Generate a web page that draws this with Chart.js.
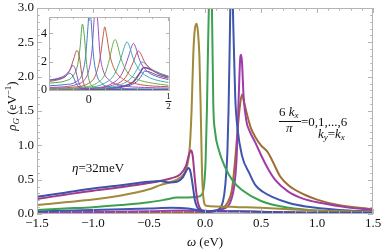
<!DOCTYPE html>
<html lang="en">
<head>
  <meta charset="UTF-8" />
  <title>Spectral density</title>
  <script src="https://cdn.jsdelivr.net/npm/chart.js"></script>
  <style>
    body { margin: 0; background: #fff; }
    #wrap { position: relative; width: 381px; height: 249px; }
    #main { position: absolute; left: 0; top: 0; }
    #inset { position: absolute; left: 36px; top: 12px; }
  </style>
</head>
<body>
  <div id="wrap">
    <canvas id="main" width="381" height="249"></canvas>
    <canvas id="inset" width="140" height="100"></canvas>
  </div>

  <script>
    // main panel, 6kx/pi = 0..6, [omega, rho]
    const kx0 = [[-1.5,0.25],[-1.25,0.31],[-1.0,0.37],[-0.75,0.42],[-0.5,0.47],[-0.4,0.48],[-0.32,0.46],[-0.25,0.47],[-0.2,0.53],[-0.17,0.62],[-0.15,0.67],[-0.13,0.62],[-0.11,0.42],[-0.09,0.2],[-0.07,0.1],[-0.045,0.06],[0,0.04],[0.1,0.04],[0.3,0.04],[0.6,0.03],[1.0,0.02],[1.5,0.02]];
    const kx1 = [[-1.5,0.22],[-1.25,0.28],[-1.0,0.34],[-0.75,0.39],[-0.5,0.45],[-0.4,0.48],[-0.3,0.52],[-0.22,0.58],[-0.17,0.7],[-0.14,0.88],[-0.125,0.93],[-0.11,0.85],[-0.09,0.5],[-0.07,0.22],[-0.05,0.1],[-0.02,0.05],[0.1,0.04],[0.3,0.035],[0.6,0.03],[1.0,0.02],[1.5,0.015]];
    const kx2 = [[-1.5,0.13],[-1.25,0.17],[-1.0,0.21],[-0.75,0.27],[-0.5,0.36],[-0.4,0.42],[-0.3,0.47],[-0.22,0.53],[-0.17,0.64],[-0.15,0.78],[-0.135,1.0],[-0.12,1.5],[-0.104,2.35],[-0.09,2.7],[-0.075,2.77],[-0.063,2.65],[-0.05,2.3],[-0.038,1.5],[-0.028,0.7],[-0.015,0.25],[0.01,0.12],[0.1,0.11],[0.3,0.1],[0.5,0.09],[0.75,0.07],[1.0,0.05],[1.5,0.03]];
    const kx3 = [[-1.5,0.06],[-1.25,0.08],[-1.0,0.1],[-0.75,0.13],[-0.5,0.17],[-0.35,0.21],[-0.25,0.24],[-0.15,0.24],[-0.07,0.25],[-0.03,0.28],[-0.01,0.4],[0.005,0.75],[0.017,1.5],[0.028,2.5],[0.045,3.5],[0.062,3.0],[0.074,1.6],[0.09,1.2],[0.12,0.95],[0.18,0.68],[0.25,0.48],[0.33,0.35],[0.5,0.19],[0.75,0.09],[1.0,0.05],[1.5,0.02]];
    const kx4 = [[-1.5,0.04],[-1.0,0.06],[-0.5,0.08],[-0.3,0.09],[-0.15,0.08],[-0.05,0.05],[0.02,0.03],[0.08,0.04],[0.13,0.08],[0.16,0.18],[0.18,0.4],[0.2,0.9],[0.21,1.5],[0.22,2.4],[0.23,3.3],[0.24,3.4],[0.255,2.6],[0.27,1.7],[0.29,1.25],[0.33,0.85],[0.4,0.58],[0.45,0.42],[0.52,0.32],[0.6,0.25],[0.75,0.16],[0.9,0.11],[1.2,0.06],[1.5,0.035]];
    const kx5 = [[-1.5,0.02],[-1.0,0.03],[-0.5,0.04],[-0.2,0.05],[0,0.04],[0.1,0.05],[0.17,0.08],[0.22,0.15],[0.26,0.4],[0.28,0.75],[0.295,1.4],[0.307,2.0],[0.315,2.28],[0.322,2.32],[0.33,2.22],[0.345,1.7],[0.37,1.35],[0.4,1.2],[0.446,1.05],[0.536,0.74],[0.625,0.5],[0.74,0.33],[0.88,0.22],[1.04,0.16],[1.25,0.1],[1.5,0.06]];
    const kx6 = [[-1.5,0.01],[-1.0,0.015],[-0.5,0.02],[-0.2,0.025],[0,0.03],[0.1,0.05],[0.15,0.08],[0.2,0.16],[0.24,0.35],[0.27,0.8],[0.29,1.2],[0.31,1.55],[0.33,1.74],[0.35,1.62],[0.38,1.42],[0.41,1.25],[0.446,1.13],[0.5,1.0],[0.56,0.9],[0.6,0.78],[0.67,0.55],[0.75,0.41],[0.89,0.28],[1.0,0.21],[1.19,0.13],[1.5,0.07]];
    const mainColors = ['#4150a8', '#a23a8a', '#a08b3a', '#3da052', '#3e56ad', '#a03ca8', '#a06c35'];

    // inset, finer k steps
    const in0 = [[-0.25,0.7],[-0.2,0.78],[-0.15,0.95],[-0.12,1.2],[-0.1,1.0],[-0.08,0.5],[-0.06,0.2],[-0.03,0.08],[0.05,0.05],[0.25,0.04],[0.5,0.04]];
    const in1 = [[-0.25,0.72],[-0.2,0.82],[-0.15,1.05],[-0.12,1.4],[-0.1,1.75],[-0.085,1.5],[-0.065,0.6],[-0.045,0.2],[-0.02,0.08],[0.1,0.05],[0.5,0.04]];
    const in2 = [[-0.25,0.62],[-0.2,0.72],[-0.15,0.95],[-0.12,1.4],[-0.095,2.2],[-0.075,2.8],[-0.06,2.4],[-0.045,1.2],[-0.03,0.4],[-0.01,0.12],[0.1,0.06],[0.5,0.05]];
    const in3 = [[-0.25,0.5],[-0.2,0.55],[-0.15,0.65],[-0.1,1.0],[-0.07,1.8],[-0.055,3.0],[-0.04,4.65],[-0.028,3.8],[-0.015,2.0],[0,0.8],[0.02,0.3],[0.06,0.12],[0.2,0.07],[0.5,0.06]];
    const in4 = [[-0.25,0.32],[-0.15,0.4],[-0.08,0.6],[-0.04,1.2],[-0.02,2.4],[-0.005,4.5],[0.005,6],[0.015,4.8],[0.03,2.4],[0.05,1.1],[0.08,0.5],[0.15,0.2],[0.3,0.1],[0.5,0.08]];
    const in5 = [[-0.25,0.2],[-0.15,0.25],[-0.08,0.4],[-0.03,0.7],[0,1.4],[0.02,2.8],[0.035,5.2],[0.045,6],[0.055,5],[0.07,2.6],[0.09,1.4],[0.13,0.7],[0.2,0.35],[0.35,0.2],[0.5,0.15]];
    const in6 = [[-0.25,0.15],[-0.1,0.22],[0,0.5],[0.04,1.0],[0.07,2.2],[0.09,3.8],[0.1,4.46],[0.11,4.0],[0.13,2.6],[0.16,1.5],[0.22,0.75],[0.3,0.45],[0.4,0.3],[0.5,0.25]];
    const in7 = [[-0.25,0.1],[-0.05,0.2],[0.05,0.5],[0.1,1.1],[0.13,2.2],[0.155,3.4],[0.167,3.56],[0.18,3.2],[0.2,2.3],[0.24,1.3],[0.3,0.8],[0.4,0.5],[0.5,0.35]];
    const in8 = [[-0.25,0.08],[0,0.2],[0.1,0.5],[0.16,1.1],[0.2,2.2],[0.225,3.1],[0.24,3.4],[0.255,3.1],[0.28,2.2],[0.32,1.4],[0.38,0.9],[0.45,0.65],[0.5,0.55]];
    const in9 = [[-0.25,0.07],[0,0.15],[0.15,0.5],[0.21,1.2],[0.25,2.4],[0.27,3.1],[0.28,3.3],[0.295,3.0],[0.32,2.1],[0.36,1.4],[0.42,1.0],[0.5,0.75]];
    const in10 = [[-0.25,0.06],[0,0.12],[0.15,0.35],[0.23,0.9],[0.28,2.0],[0.3,2.6],[0.31,2.77],[0.325,2.6],[0.35,2.0],[0.4,1.4],[0.45,1.1],[0.5,0.9]];
    const in11 = [[-0.25,0.05],[0,0.1],[0.2,0.4],[0.27,0.9],[0.31,1.6],[0.333,2.0],[0.35,1.9],[0.38,1.6],[0.43,1.25],[0.5,1.0]];
    const in12 = [[-0.25,0.04],[0,0.08],[0.2,0.25],[0.28,0.6],[0.32,1.2],[0.345,1.6],[0.37,1.55],[0.4,1.4],[0.45,1.15],[0.5,0.95]];
    const in13 = [[-0.25,0.03],[0,0.06],[0.2,0.2],[0.3,0.6],[0.33,1.0],[0.35,1.35],[0.38,1.3],[0.42,1.1],[0.5,0.85]];
    const insetColors = ['#4b5fb8', '#9b4fb5', '#b85a4a', '#55a84a', '#3f7fc0', '#9a50c8', '#c0603f', '#6ab04a', '#3fb0b0', '#9050c0', '#c85050', '#45b5c0', '#8040a8', '#4a5ab8'];

    const xTicks = [-1.5, -1.0, -0.5, 0, 0.5, 1.0, 1.5];
    const xTickLabels = ['\u22121.5', '\u22121.0', '\u22120.5', '0.0', '0.5', '1.0', '1.5'];
    const yTicks = [0, 0.5, 1.0, 1.5, 2.0, 2.5, 3.0];
    const yTickLabels = ['0.0', '0.5', '1.0', '1.5', '2.0', '2.5', '3.0'];
    const insetYTicks = [0, 2, 4];

    const SERIF = '"Liberation Serif", "DejaVu Serif", serif';

    function toXY(arr) {
      return arr.map(p => ({ x: p[0], y: p[1] }));
    }

    // draw text pieces in a row, returns width
    function textRun(ctx, x, y, parts, measureOnly) {
      let w = 0;
      parts.forEach(p => {
        ctx.font = p.f;
        if (!measureOnly) ctx.fillText(p.t, x + w, y + (p.dy || 0));
        w += ctx.measureText(p.t).width;
      });
      return w;
    }

    function drawFrame(ctx, area, xs, ys, minorX, majorX, minorY, majorY, len) {
      ctx.save();
      ctx.strokeStyle = '#b4b4b4';
      ctx.lineWidth = 1;
      ctx.strokeRect(area.left + 0.5, area.top + 0.5, area.right - area.left - 1, area.bottom - area.top - 1);
      ctx.beginPath();
      minorX.forEach(v => {
        const px = Math.round(xs.getPixelForValue(v)) + 0.5;
        const l = majorX.includes(v) ? len : len * 0.55;
        ctx.moveTo(px, area.bottom); ctx.lineTo(px, area.bottom - l);
        ctx.moveTo(px, area.top); ctx.lineTo(px, area.top + l);
      });
      minorY.forEach(v => {
        const py = Math.round(ys.getPixelForValue(v)) + 0.5;
        const l = majorY.includes(v) ? len : len * 0.55;
        ctx.moveTo(area.left, py); ctx.lineTo(area.left + l, py);
        ctx.moveTo(area.right, py); ctx.lineTo(area.right - l, py);
      });
      ctx.stroke();
      ctx.restore();
    }

    const mainDecor = {
      id: 'mainDecor',
      afterDraw(chart) {
        const ctx = chart.ctx;
        const a = chart.chartArea;
        const xs = chart.scales.x, ys = chart.scales.y;
        const minorX = [], minorY = [];
        for (let i = -15; i <= 15; i++) minorX.push(i / 10);
        for (let i = 0; i <= 30; i++) minorY.push(i / 10);
        drawFrame(ctx, a, xs, ys, minorX, xTicks, minorY, yTicks, 5);

        ctx.save();
        ctx.fillStyle = '#111';
        ctx.font = '13px ' + SERIF;
        ctx.textBaseline = 'middle';
        ctx.textAlign = 'right';
        yTicks.forEach((v, i) => ctx.fillText(yTickLabels[i], a.left - 3, ys.getPixelForValue(v)));
        ctx.textAlign = 'center';
        ctx.textBaseline = 'top';
        xTicks.forEach((v, i) => ctx.fillText(xTickLabels[i], xs.getPixelForValue(v), a.bottom + 3));

        ctx.textAlign = 'left';
        ctx.textBaseline = 'alphabetic';
        const it = 'italic 13px ' + SERIF, rm = '13px ' + SERIF;
        const sub = '9px ' + SERIF, subIt = 'italic 9px ' + SERIF;

        // x title
        const xt = [{ t: '\u03C9', f: it }, { t: ' (eV)', f: rm }];
        const xw = textRun(ctx, 0, 0, xt, true);
        textRun(ctx, 205 - xw / 2, 246, xt);

        // y title
        const yt = [{ t: '\u03C1', f: it }, { t: 'G', f: subIt, dy: 3 }, { t: ' (eV', f: rm }, { t: '\u22121', f: sub, dy: -5 }, { t: ')', f: rm }];
        ctx.save();
        ctx.translate(16, 106);
        ctx.rotate(-Math.PI / 2);
        const yw = textRun(ctx, 0, 0, yt, true);
        textRun(ctx, -yw / 2, 0, yt);
        ctx.restore();

        // eta note
        textRun(ctx, 72, 172, [{ t: '\u03B7', f: it }, { t: '=32meV', f: rm }]);

        // 6 kx / pi = 0..6
        textRun(ctx, 279, 116, [{ t: '6 ', f: rm }, { t: 'k', f: it }, { t: 'x', f: subIt, dy: 2 }]);
        ctx.fillRect(279, 121, 22, 1);
        textRun(ctx, 286, 132, [{ t: '\u03C0', f: it }]);
        textRun(ctx, 301, 126, [{ t: '=0,1,...,6', f: rm }]);
        textRun(ctx, 318, 138, [{ t: 'k', f: it }, { t: 'y', f: subIt, dy: 2 }, { t: '=', f: rm }, { t: 'k', f: it }, { t: 'x', f: subIt, dy: 2 }]);
        ctx.restore();
      }
    };

    const mainSets = [kx0, kx1, kx2, kx3, kx4, kx5, kx6].map((d, i) => ({
      data: toXY(d),
      borderColor: mainColors[i],
      borderWidth: 2
    }));

    new Chart(document.getElementById('main').getContext('2d'), {
      type: 'line',
      data: { datasets: mainSets },
      options: {
        responsive: false,
        animation: false,
        layout: { padding: { left: 37, right: 8, top: 8, bottom: 35 } },
        elements: {
          point: { radius: 0 },
          line: { cubicInterpolationMode: 'monotone' }
        },
        scales: {
          x: { type: 'linear', min: -1.5, max: 1.5, display: false },
          y: { type: 'linear', min: 0, max: 3, display: false }
        },
        plugins: { legend: { display: false }, tooltip: { enabled: false } }
      },
      plugins: [mainDecor]
    });

    const insetDecor = {
      id: 'insetDecor',
      beforeDatasetsDraw(chart) {
        const a = chart.chartArea;
        chart.ctx.save();
        chart.ctx.fillStyle = '#fff';
        chart.ctx.fillRect(a.left, a.top, a.right - a.left, a.bottom - a.top);
        chart.ctx.restore();
      },
      afterDraw(chart) {
        const ctx = chart.ctx;
        const a = chart.chartArea;
        const xs = chart.scales.x, ys = chart.scales.y;
        const minorX = [-0.2, -0.1, 0, 0.1, 0.2, 0.3, 0.4, 0.5];
        const minorY = [0, 1, 2, 3, 4, 5];
        drawFrame(ctx, a, xs, ys, minorX, [0, 0.5], minorY, insetYTicks, 4);

        ctx.save();
        ctx.fillStyle = '#111';
        ctx.font = '12px ' + SERIF;
        ctx.textAlign = 'right';
        ctx.textBaseline = 'middle';
        insetYTicks.forEach(v => ctx.fillText(String(v), a.left - 2, ys.getPixelForValue(v)));
        ctx.textAlign = 'center';
        ctx.textBaseline = 'top';
        ctx.fillText('0', xs.getPixelForValue(0), a.bottom + 3);
        const hx = xs.getPixelForValue(0.5);
        ctx.font = '9px ' + SERIF;
        ctx.fillText('1', hx, a.bottom + 1);
        ctx.fillRect(hx - 3, a.bottom + 10, 6, 1);
        ctx.fillText('2', hx, a.bottom + 11);
        ctx.restore();
      }
    };

    const insetSets = [in0, in1, in2, in3, in4, in5, in6, in7, in8, in9, in10, in11, in12, in13].map((d, i) => ({
      data: toXY(d),
      borderColor: insetColors[i],
      borderWidth: i === 12 ? 1.6 : 1
    }));

    new Chart(document.getElementById('inset').getContext('2d'), {
      type: 'line',
      data: { datasets: insetSets },
      options: {
        responsive: false,
        animation: false,
        layout: { padding: { left: 13, right: 6, top: 5, bottom: 21 } },
        elements: {
          point: { radius: 0 },
          line: { cubicInterpolationMode: 'monotone' }
        },
        scales: {
          x: { type: 'linear', min: -0.25, max: 0.51, display: false },
          y: { type: 'linear', min: -0.05, max: 5.15, display: false }
        },
        plugins: { legend: { display: false }, tooltip: { enabled: false } }
      },
      plugins: [insetDecor]
    });
  </script>
</body>
</html>
